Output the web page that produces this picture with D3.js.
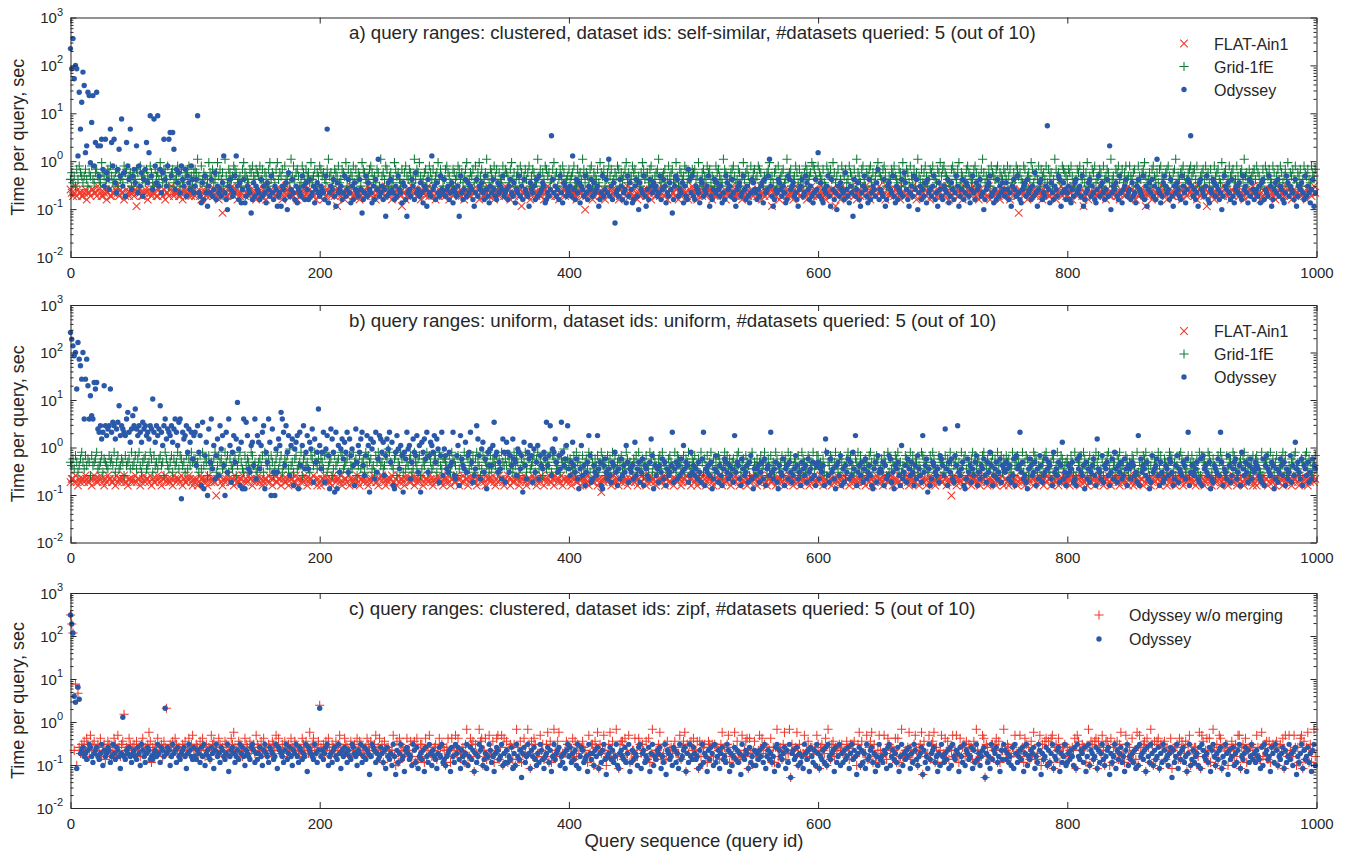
<!DOCTYPE html>
<html><head><meta charset="utf-8">
<script src="https://cdn.jsdelivr.net/npm/d3@7"></script>
<style>
body{margin:0;background:#fff}
svg{display:block}
text{font-family:"Liberation Sans",Arial,Helvetica,sans-serif;fill:#262626}
</style>
</head><body>
<svg id="chart" width="1349" height="853"></svg>
<script>
// ---------------- DATA ----------------
const xTickValues = [0, 200, 400, 600, 800, 1000];
const yTickExponents = [-2, -1, 0, 1, 2, 3];
const panelTitles = [
  "a) query ranges: clustered, dataset ids: self-similar, #datasets queried: 5 (out of 10)",
  "b) query ranges: uniform, dataset ids: uniform, #datasets queried: 5 (out of 10)",
  "c) query ranges: clustered, dataset ids: zipf, #datasets queried: 5 (out of 10)"
];
const seriesNamesAB = ["FLAT-Ain1", "Grid-1fE", "Odyssey"];
const seriesNamesC = ["Odyssey w/o merging", "Odyssey"];
const yLabel = "Time per query, sec";
const xLabel = "Query sequence (query id)";

// Values, one character per query id (0..999).
// Character k of CODE stands for a time of 10^(-1.5 + 0.07*k) seconds.
const CODE = "0123456789ABCDEFGHIJKLMNOPQRSTUVWXYZabcdefghijklmnopqrstuvwxyz";

const flatA_codes = [
"DCBCEBDCCB BCDACCBDDC CBEDCBBCDA CDBBCCDECB DCCABDCBCD",
"CBD8CDCBBC DCADCBCCEB BDCCBDACCB DECBCCDBBC ADCDCBCBED",
"BCCDBACDCB DEBCCBDCBA CC6DCBBDCC EBCDACBCDD BCCBEDCBCA",
"CDBBCDCAEC BDCCBBCDCD ABCEDCCBDB CCADBCDCBE CBDCCBDACB",
"BDCACBDCEB CCBD8DCBCC ADBCDECBBC DCABCCDBCE DBCCBADCDC",
"CCBEDCBDAC BCDDCB8CCA BDCBECDCBB CADCCBDEBC CDBACBDCCB",
"DBCCADCBED CCBDBCACDC BBEDCCBDAC CDBCCEBDCB ACDCBDCCBE",
"CBDAECBCDC BD8CCBDBCA EDCCBCDBBC ADCECBDCCB DBACCDEBCC",
"BCDCCBAEDC CBD7BCDCCA BDECCBBCDA CCBDEDCBCC ABDCCDBECB",
"CDBECACBDC DCBBCDAECC BDCBCEDBCA CDBCCBDEAC BCDCCBADCE",
"DCCABDCBEC BCDDCACBCB EDCCBDACBC DECBBCDCCA DBCEBCCDBC",
"CBDCEACBDC CBD8DCBCCA EBCDCBDCBC ADECCBBDCC BACDCEBDCB",
"BCEDCBACDC BDCC8BCDAE CBCDBCCEDB CACDBCCBED CBADCCBDCE",
"CDBCAEDCBC CBDDCBACEC BDCBCCEDBA CCDBCDEBCC ABDCCBDCEB",
"DBCCEACBDC CDBBCDAECB CDCBCEDBCA DCBCCBDEAC CBDCCBADCB",
"CCDBACEDCB B6DCCBCDAC EBCDCBDCCB ADECCBBDCC BACDCEBDCB",
"BDCCAEDCBC CDB8BCDACE CBCDBCCEDB CADCBBCDEC BCADCCBDCE",
"CBDCEACBDC DCB8CBCDAE BCCDBCEDCB ACDCBBCDEC CBADCCBDCE",
"DCBCAEDBCC BD8CCDBCAE CBDCCBEDCB CADBCCDEBC CBACDCBDCE",
"CDBCEACBDC CBDDCBCAEC BDCCBCEDBC ACDBCCDEBC BCADCCBDEC"
].join("");

const gridA_codes = [
"GIFHEJGKIH FHJGEIHKGF IJHGFLIHEG JIKHFGIJEH GHFKIJGHIE",
"HFGJIEKHGI FJHGKIFEJH IGLHFJIGKE HIJFGHKIEJ GFHIJKGHEI",
"JIMHFKGIHE GLIHJFGILH JGIEMHFJIG HKJIFGHEJL IHGFJIKHGJ",
"IHKGJFIHEJ LGIHFJLGIH JEKGHIFMHK GIJHEFKIGJ HIFLGHJEIH",
"KJHIGFJMHI EGJIHKFGJI HLEJGIHKFJ GIHELJIGFH JKIGHFJIEM",
"HIGKJEHIFG LJHIGFJEIK HGJIFHMGJI LHFGIJEHKI GJFHILGJHE",
"GJKIHFEJIG HKJGIFHJLE GIHJFKGILH JEGIMHFJIG KHJEIGFKHJ",
"IHFJLGIEHJ GKIFHJGIKE HJIGFMHJEI GKJHIFGJLH IEGJHKIFGH",
"JGHIKFEJHI GMJFIHGJKE IHGJFLIHJE GIKHJFGIHK JEIGHJLFIG",
"HKIJGFHEIL JGHIFJKGEH IJMGFHIJEG KHIJGFLHEJ IGHKJFIGHJ",
"IJGHLEFIJH GKIJFHGEKI JHGFMJIHEG IJKHFGJIEH LGIJHFKGIJ",
"GHKJIFEHGI JLGHFIJEKG HIJFGMHIJE GHKIFJGHEI KJGHILKJHG",
"KIHGJFEKIH JGLIFHJEGK IHJFGKIHEJ GMIHFJKGEI HJKGIFHJLI",
"HGJKIEFHGJ IKHGFJIELH GJIFKHGJEI MHGJFIKHEG JIKHGFJILH",
"JKIHGFEJKI HGJLFIHEGJ KIHFGJKIEH GJMIFHGJEK IHGJKFIHGJ",
"IGKHJEFIGK JHIGFKJEHI GLJFHIGKEJ HIGKFJHIEG MJHIGFKJIH",
"GJIKHFEGJI KHGJFILEHG JIKFGHJIEK GHJIFMGHEJ IKGHJFIKGH",
"KHGIJEFKHG IJLHFGIEJK HGIFJKHGEI JKHGFIJMEH GIJKHFGIJK",
"HIJGKFEHIJ GKHIFJGEKH IJGFLHIJEG KHIJFGKHEI JGMHIFJGHI",
"JGKIHEFJGK IHJGFKIEHJ GKIFHJGLEI HJGKFIHJEG KIHJGFKIHJ"
].join("");

const odysseyA_codes = [
"tnwkonNgVd miOQgfLXfK RgQHQSJESI GDVRKSFCJP HYEIBRKGVD",
"HJFQCKEIBG JRFOZHDYKF ZEJCISGEKS UHUPDJFICK GEJBHFDKGC",
"EGZCB9FAHC 8ECGBDIAEC DBFNCA7EGD BCHNEAF9DG 9BEDC6AFBE",
"DCAGBEC9FD BHCAED8BC8 EDAF7IBDGC AE9DCBHEAF DAGBCE9DFC",
"BEDCAHV9CE DGB8FCDEAC HBDGC9EAFD CBGD6ACHBF DC9EAGDMBC",
"EAD5BFCGDC AEBHDC9FEA 5CDBGEAICD BFC9ED8GCB NDEAFCBHDC",
"GBDEACF9DC BE5HCADGBF CEDA8CGBED FCAHDB9ECG DBAFCEDHBC",
"DAEGCBF9DC HBEAGDCB8F DCEAGBHCDF E9ACBDTGCE BDAHC9FEBD",
"CEBNDAGCF9 EDBHCAEDGB FCDE8ACHBD GCMBEAF3CD BGEACD9HBF",
"D9AEGB7FDC HB8DAGECFD EBCHADGE9C BFD6AEHGBD CF9EBAJGCH",
"BAEDC9GFBD CEH8BADGCF DBE9CAHFDE BGCA8DEFBC HDAEB9CGFD",
"CADBEF9GCD HMEB8ADCGF DBEC9AHGDE FBCA8DEGBC HFDAEB9CGD",
"OBFA9DCEHB 8GDAC7EBFD CAIDB9EC5G BDFA8CEHDB 9GACEDBFJA",
"DCBG8AEFDC HB9EADCGBI FDA8CEBHDG 7CEADBF9GC DBEHAC8FDB",
"AEDCG9BFDA CHE8BDGACF EB9DHCAFDE GBC7ADEFHB C9DAGBECFD",
"BFDAC8EGDB HCA9DEFBGC DAEBIC8DFG ACBEWD9FCA EDBHG8CFDA",
"CEA9DBFGCD EBH8ACDFGB ECA9DHBEFC ADGBQ7CEDF BAHC9DEGBC",
"DAFBC9EGDC BHAE8DFCGB EAMDC9BFHE CDAGB8ECFD BAHEC9DGFT",
"EBDAC8FGDC BEHA9DCGFB EDAC7BHEDF CAGB9DECFB AHDEC9GBFD",
"ACDBE9FGAD CBHE8ADFCG BEDA9CHFBE DCAG8BEDFC AHBEC9DG8C"
].join("");

const flatB_codes = [
"BCCBDBACBC CBDCBBCACD CBBCDCBACB DCCBBCADBC CBCDBBACCB",
"CBDBCCABCD BCCBDACBBC DCBACCDBCB BCADCBCCBD ACBBCDCBAC",
"BCABDCCBCB ADCBCBB7CC DBACBCDCBB CADCBBCCDA BCBDCCABCB",
"CDBCABCCBD BCACDBBCCA DCBBCADCCB BDCACBCBDC ABCCBDBCAC",
"BACCDBCBBC ADCBCCBDAB CCBDACBCBC DBACCBCDBA CBCDCBBACD",
"DCBACBCCDB BCADBCCBAC DCBBCDACBC BCDABCCBDC BACBCDCBBA",
"CBCDBACCBB DCACBDBCCA BCDCBBACDC BCBADCCBCD BACBDCCBAC",
"BDCACBBCDC ABCCDBACBC BDCCABCBDC ACBCDBBCAD CBCBDACCBC",
"CBACDCBBCA DCBCBDACCB BCDACB8CBC DBCCABDCBC ACBDCBCABC",
"BCDBCACBBD CCABCDBCCB ADCBCBDACC BDBCACCBDC ABCCDBBCAC",
"DBCABCCBDC ABCCDBACBB CDCABCBDCC ABCBDCCABC DBCACBBDCC",
"CABCDBCCBA DCBBCDACBC CBDACBCDBC ABCCBDACBC DBCABCCDBC",
"BCDCABCBBD CACBCDBCAB CDBCCABDCB CABCDCBBAC DBCCABCDBC",
"CBACDCBBCD ACBCBDACCB DCBACBCDBC CABDCBCACB DCBCABCDCB",
"BDCABCB7CD CABCBDCACB BCDACBCDBC ABCCDBACBC DBCABCCDBA",
"CCBADBCBCD ABCCBDACBC BDCACBCDBB CACBDCCABC DBCACBCDBC",
"BCADCBCBDC ABCDBCACBB CDACBCDBCA BCCDBACBCD CBACBCDBCA",
"DCBACBCDBC CABDCBCABC BDCCABCDBC ACBCDBCABC DCBACBCDCB",
"CBDACBCDBC ABCCDBACBC BDCABCCDBA CBCDBCABCC DBACBCDCBA",
"BCADCBCDBC CABDCBCACB BCDACBCDBC ABCCDBACBC DCBACBCDBC"
].join("");

const gridB_codes = [
"HGIFJHEGIK HFJGIHDJGH IKFGHJEIHG FJHIGKEHJF GIHDJGHIFK",
"GHJFIKGEHI JFGHKIEJGH FIJGHDKIGF HJEIGHKFJI GHEJFIGKHI",
"IGHEJFKGIH DJFHGIKEGJ HIFGKHJEIG FHJDGIKHFE JGIHFKJGHE",
"FHIGJEKHGI FJHDGIKFHJ EGIHJFLGHE IJFGHKDIJG HFEJIGKHFI",
"GIHFJKEGHI DFJGHIEKJF GHIEJGFKHI DGJFHIEKGJ HIFGEJHKIG",
"HFGJILKHGF IJDHGKIEJF HGIJEFKHGI JDFHGIKEJH FGIJEHKGFI",
"IHGFJEKIHG DJFIHGKEJI FHGJEIKHGD FJIHGKEJFI HGJEIFKHGI",
"GJHFIEKGJH DFIGHKEJIF GHJEIKFHGD JIFHGKEJIH FGJEIHLGFI",
"HIGFJEKHIG DJFHIGKEJH FIGJEHKIGD FJHIGKEJFH IGJEHFKIGH",
"FGIHJEKFGI DHJGFKIEJH GFIJEKHGFD IJHGFKEJIH GFJEIHKGFI",
"HJFGIDKHEI GJFHKGIEHF JIGDHKFJGI EHIFGJKHEG IFJHGDIKFH",
"GIEHJFGKHD IFJGHEKIGF HJDGIFKHJE GIHFJGDKIH FEJIGHKFGJ",
"JFHGIEKDHG JIFHKGEIJH FGDIKHJFGE IHKGJFDHIG EJKHFIGJHE",
"FIGJHDKEIF HGJIKFHEGD JIHGKFJEIH DGFKJIHGEF JHKIGDFJHI",
"HEJGIFKHDG IJFHEKGIJF DHGIKEJFHI GDJKHFIEGH JFIDKGHJEI",
"GJHIEFKDGH JIFGKEHJID FGHKJIEGFD HIJKGFEHJI DGKFHJIEGH",
"IGFJHEKDIG HJFKIGEHJD FIGKHJEFID GHJKFIEGHD JIKFGHEJID",
"HFJIGDKEHF GJIKHFDGJE IHFKGJDEIH FGKJIEHDGF JKIHGEFJDH",
"JHGFIEKDJH IGFKJHEIGD FJHKIGEDJF HIGKJFEDHI GJKFHIDEGJ",
"GIJHFEKDGI HJFKGIEHJD FGIKHJEDGF IHJKGFEDIH GJKFIHDEGJ"
].join("");

const odysseyB_codes = [
"usqnodrmkg oUgmeUbVUf dfRQSOQeSP RSdQTSORTY PSRQPUWQNR",
"VSXRPSQNTR SPQOSRaQNS PRYQMSUORQ PSNRUQMTU6 QOPSKRNQIP",
"QGSKPAT9JN 7RHUFMCJOD SLPG7QEUMB KPHOZLAN9U 9TPFEMNGUC",
"PNFMQS9KHU N7RE7LEOMW UQGSKPDMOA LNP9QGMSFK PFNLRBOHKX",
"MFKQBLPJ9R OK8Q9MELOI NKQEOJLGAR HMKOQGDJPM 8OLNCQEIPO",
"KNDJOLQHNA 9KPLFMJ8KI QLMCHOKJPE M8NKOIQEJN MKPHOLBJQD",
"LJFEKGHQDC JMAPIGFNEJ KQHBDFSOJC LNEI9KGLGM TJKEHFCOKB",
"NKEJGOIHDL KFJ8NGCKIM JBLEHMCJGF KITGJSDLKO HEJFTKGIMS",
"FDHNGEIC9F MDGAEHPJBC GEDPFHA9GI ECFDBHGKEA FCIDGEMHBF",
"EGCNDFHBEI AGFDCHOJ9G DFBGEICHAF DEGQBFHCGD IEMFHGBDKE",
"GDFCHEBIQA FEGDH9CFJE BGDAFIHECG DFBPEHGCAI FDEGBHJC9F",
"DFGBEHCIAF GDQECFHB9G EDIAFGCHEB DFJGCEAHFD GBIEFCHDAG",
"HCFEGAOKDB IEFC9GHDJA FBGEICHDKF PAEGDHBFIC EGDA9FHBJE",
"FEHAGCDJIB E9GFHDAMCE GBIFDHEAGC JFDBPEGI8F ACHGEDFBJI",
"GDRFAHEICB JGSEDFHA9C IEGBFDHJAE CGFIDBHEKG ADFHCEIBGF",
"EHFCGBDIAJ FGQEHCDB9F IGDEHAFCJG BDEIFHGCAK EFDHBGNCEA",
"DGEFHBCAIF JEDG9HCFBE GIDAOFECJB GFHDAEICKF BGEHCDIFAG",
"FCHGDEBPAI EGFDHC9BJE FGIDAHEBCG FDIHEACGJB FEDHGCIQAE",
"GEDFHCBIAJ FGEDH9CBGF EIDQHAFECJ GBDFHICEGA KFDHEBGICF",
"EHGFDCBIAG JFEDHG9CFB EIGDHAFCEJ BGDNFHECIA GFDHBECIGF"
].join("");

const noMergeC_codes = [
"vspCY7VDBE DFCGEAHCEF CBEDGACE9B FECADGEBHD AEFOCDBGEC",
"DEBFCDAEGC DBEIF8DCEB GDCEAFDQCB EDFCGEBDCA EDFBCGDEHC",
"CEDBFCGDAE CD9HEFCDBG ECDAFEBDCG EIDCBFEDAC GEDBFCDEBH",
"EDCFBGDCAE DBFECHDGCB EAFDCEBGDC FEDBACGEDF CBIDEGCBDF",
"RDCEBFDGCA EDBFCEHDCB GEDCAFBDEC GDFEBCADGE CFDBEHCDGB",
"E8FBDDCBCH A7F8GECDAC GBCFAEF8G9 AEEC8GADHB ACDE9BGDED",
"C7DGC8GADH BGCBCD8EJA AGEF5EBAJF G7CG9AHCBF 8BGH9DH7GB",
"F8DED9E7JD 9F8BGBAJE6 FAGEABBHCE 9AEI8F8AJC BFIAABBBFE",
"DDBG9FAEBD DFDCA8HBEE 7FDI6EBCHC 7AEI9FBAJA 6EFF9GBBH8",
"BCCGAAGEBE CBF9G8BJAA CCEI9ABE9F BCDCDFBBBH 9DFI5EBEFC",
"GBCF6FAEDE A8FEDEAEDD C9EI9DBEH8 BADI9FBB9H ACFG6GBACF",
"ABCHAGBEBD CCG8D8DJAC D9EI9CBJ3E CCDI7EBABH BCFADDBCCH",
"E6DECBG7JD 9EFADBDECE BCCFD9EEEF A7EI7FBBBH 9DFI8E8ACH",
"CABHB9GECD CCG8G8AJAB CCDI9BBEHC 7DEI4FBABH 9EFI8D8BCH",
"ABG9F9DCHA CHB8GADEAF BEDD9F8JCB AAHG3EDA9E ECEG8F8CCJ",
"CCEDAADBHB BAHCD8GEAD 9FBI9ABEH7 E9FG7F8GH6 DECG8BDDEA",
"DBCCDCG6HF CCEDD8DJ7F E9FG6FDBHC 7FFD7G8DEB F9EIBA8HEA",
"D9GBC9I7HD BEF5GD8JE7 F9FG6EDEF9 DCBG6CDDE9 G9FDBF5EH7",
"CCDDBAI6HF ACG8G8CJD7 E9HG6DDEE7 CCFDAE8HH6 DEBG8CDDEC",
"BBHD99IAEE F9F8DEDEF7 DEBG6HBAHC BAHD7D8GH6 F9DI8E8CJA"
].join("");

const odysseyC_codes = [
"vspUS6XTBC DAB9CEDA8B CDA9BE7CAB DC8AEB9DCA 6BNA9CBDA8",
"BCA9DB7ECA 8BDC9A9BCA EB8DCAQBDC 7AEBC8DA9B CDA6BECA9D",
"A9CB8DAE7B CA9DB6CEAB 8DCA9BE5AC DB8AC9EBDA 7CBA9DEC8B",
"9BDA7CEBA8 DCB9AE6DCB A8CE9BDA7C BEA8DC9BAE 5DCBA9EB8C",
"QAC9BDE7AB 8CDA9EB6CA DB8CA9EDBA 7CBE8AD9CB 4AEDC8B9AD",
"B8C6DA9B7E A4C8BE9A5C DB9A7EC8D6 AB9C5DA8EB 7CA96BDAE8",
"97ABC5DA8E BD96CA8BE7 AD9C5B8AEC D79B6AEC8A 5BDC9AE7B8",
"C8A9D6B7EA 9C3BD8AEB6 CAD97B8EC9 6ABD8C5AE9 BCD7A8B6CE",
"AD8B9C7E6A DC89A5EB9B 7CAD6B8CE9 4ABD9C8AE7 6BCA9D8BE5",
"8C9BA7DE6B C8A9D5BE7A 9CBD6A8E4C B9A7DC8B6E 9ACD5B8EA9",
"DB9A6C7E8B A5C9DB7E8A C6BD9A8EC5 B7AD9C8B4E A9CB6D8A7C",
"7B9CAD8E6A C9B8A5DE7C A9BD6C8E3B C9AD7B8A6E B9C5DA8C7E",
"B6A9C8D7EA 9BC5D8AE7B 8C9AD6BE9C A4BD7C8B6E 9ACD8B5A7E",
"9A8CB6DE7A C9B8D5AE7B 9CAD6B8EC9 7ABD4C8A6E 9BCD8A5B7E",
"A8B9C6D7EA 9CB5DA8E7C B9AD6C8E9B 7ACD3B8A6E 9CBD8A5C9E",
"C9B8A7D6EB 8AC9D5BE7A 9CBD6A8EC4 B9AD7C8BE6 A9CD5B8AE7",
"8B9CA7D6EA 9CB8D5AE7C B9AD6C8BE9 7ACD4B8AE6 C9BD8A5CE7",
"A9B8C6D7EA B9C5DA8EB7 C9AD6B8EC9 A7BD3C8AE6 B9CD8A5BE7",
"9C8AB7D6EC A9B8D5CEA7 B9CD6A8EB4 C9AD7B8CE6 A9BD5C8AE9",
"B8CA96D7EB C9A5DB8EC7 A9BD6C8AE9 B7CD4A8BE6 C9AD8B5CE7"
].join("");

function decode(codes) {
  return Array.from(codes.replace(/\s/g, "")).slice(0, 1000)
    .map(ch => +Math.pow(10, -1.5 + 0.07 * CODE.indexOf(ch)).toPrecision(3));
}
const flatA = decode(flatA_codes), gridA = decode(gridA_codes), odysseyA = decode(odysseyA_codes);
const flatB = decode(flatB_codes), gridB = decode(gridB_codes), odysseyB = decode(odysseyB_codes);
const noMergeC = decode(noMergeC_codes), odysseyC = decode(odysseyC_codes);

// ---------------- STYLE / LAYOUT ----------------
const RED = "#ee3a2c", GREEN = "#107a3a", BLUE = "#2b59aa";
const left = 70.5, right = 1316.5;
const panels = [
  { top: 17.5, bottom: 257, title: panelTitles[0], titleY: 39,
    legend: { mx: 1184, tx: 1214, y0: 43.5, dy: 23 },
    series: [ {name: seriesNamesAB[0], values: flatA, marker: "x", color: RED},
              {name: seriesNamesAB[1], values: gridA, marker: "+", color: GREEN},
              {name: seriesNamesAB[2], values: odysseyA, marker: "o", color: BLUE} ] },
  { top: 305, bottom: 542.5, title: panelTitles[1], titleY: 326.5,
    legend: { mx: 1184, tx: 1214, y0: 331, dy: 23 },
    series: [ {name: seriesNamesAB[0], values: flatB, marker: "x", color: RED},
              {name: seriesNamesAB[1], values: gridB, marker: "+", color: GREEN},
              {name: seriesNamesAB[2], values: odysseyB, marker: "o", color: BLUE} ] },
  { top: 593, bottom: 808, title: panelTitles[2], titleY: 614.5,
    legend: { mx: 1099, tx: 1129, y0: 615, dy: 24 },
    series: [ {name: seriesNamesC[0], values: noMergeC, marker: "+", color: RED},
              {name: seriesNamesC[1], values: odysseyC, marker: "o", color: BLUE} ] }
];

const svg = d3.select("#chart");

function markerPath(type, x, y) {
  if (type === "x") { const s = 3.8; return `M${x-s},${y-s}L${x+s},${y+s}M${x-s},${y+s}L${x+s},${y-s}`; }
  const s = 4.6; return `M${x-s},${y}L${x+s},${y}M${x},${y-s}L${x},${y+s}`;
}
function drawMarkers(g, data, type, color, xs, ys) {
  if (type === "o") {
    g.selectAll("circle").data(data).join("circle")
      .attr("cx", d => xs(d.i)).attr("cy", d => ys(d.v)).attr("r", 2.7)
      .attr("fill", color);
  } else {
    g.selectAll("path").data(data).join("path")
      .attr("d", d => markerPath(type, xs(d.i), ys(d.v)))
      .attr("fill", "none").attr("stroke", color).attr("stroke-width", 1.05);
  }
}

panels.forEach((p, pi) => {
  const x = d3.scaleLinear().domain([0, 1000]).range([left, right]);
  const y = d3.scaleLog().domain([0.01, 1000]).range([p.bottom, p.top]);
  const g = svg.append("g").attr("class", "panel" + pi);

  p.series.forEach(s => {
    const data = s.values.map((v, i) => ({i, v})).filter(d => d.v >= 0.01 && d.v <= 1000);
    drawMarkers(g.append("g"), data, s.marker, s.color, x, y);
  });

  const majorY = yTickExponents.map(e => Math.pow(10, e));
  const minorY = [];
  for (let e = -2; e < 3; e++) for (let m = 2; m <= 9; m++) minorY.push(m * Math.pow(10, e));
  const axStyle = sel => { sel.selectAll(".domain").attr("stroke", "#262626").attr("stroke-width", 1);
                           sel.selectAll(".tick line").attr("stroke", "#262626"); };
  g.append("g").attr("transform", `translate(${left},0)`)
    .call(d3.axisLeft(y).tickValues(majorY).tickSizeInner(-6).tickSizeOuter(0).tickFormat(""))
    .call(axStyle);
  g.append("g").attr("transform", `translate(${left},0)`)
    .call(d3.axisLeft(y).tickValues(minorY).tickSizeInner(-3).tickSizeOuter(0).tickFormat(""))
    .call(axStyle).select(".domain").remove();
  g.append("g").attr("transform", `translate(${right},0)`)
    .call(d3.axisRight(y).tickValues(majorY).tickSizeInner(-6).tickSizeOuter(0).tickFormat(""))
    .call(axStyle);
  g.append("g").attr("transform", `translate(${right},0)`)
    .call(d3.axisRight(y).tickValues(minorY).tickSizeInner(-3).tickSizeOuter(0).tickFormat(""))
    .call(axStyle).select(".domain").remove();
  const xb = g.append("g").attr("transform", `translate(0,${p.bottom})`)
    .call(d3.axisBottom(x).tickValues(xTickValues).tickSizeInner(-6).tickSizeOuter(0).tickFormat(d3.format("d")).tickPadding(10))
    .call(axStyle);
  xb.selectAll("text").attr("font-size", 15).attr("fill", "#262626").attr("font-family", '"Liberation Sans",Arial,sans-serif');
  g.append("g").attr("transform", `translate(0,${p.top})`)
    .call(d3.axisTop(x).tickValues(xTickValues).tickSizeInner(-6).tickSizeOuter(0).tickFormat(""))
    .call(axStyle);

  yTickExponents.forEach(e => {
    const yy = y(Math.pow(10, e));
    const t = g.append("text").attr("x", 63).attr("y", yy + 5.5).attr("text-anchor", "end");
    t.append("tspan").attr("font-size", 15).text("10");
    t.append("tspan").attr("font-size", 11).attr("dy", -7.5).text(String(e));
  });

  g.append("text").attr("transform", `translate(24,${(p.top + p.bottom) / 2}) rotate(-90)`)
    .attr("text-anchor", "middle").attr("font-size", 18).text(yLabel);

  g.append("text").attr("x", 349).attr("y", p.titleY).attr("font-size", 18.7).text(p.title);

  p.series.forEach((s, k) => {
    const ly = p.legend.y0 + k * p.legend.dy;
    if (s.marker === "o") {
      g.append("circle").attr("cx", p.legend.mx).attr("cy", ly).attr("r", 2.7).attr("fill", s.color);
    } else {
      g.append("path").attr("d", markerPath(s.marker, p.legend.mx, ly))
        .attr("fill", "none").attr("stroke", s.color).attr("stroke-width", 1.05);
    }
    g.append("text").attr("x", p.legend.tx).attr("y", ly + 6).attr("font-size", 16).text(s.name);
  });
});

svg.append("text").attr("x", 694).attr("y", 847).attr("text-anchor", "middle")
  .attr("font-size", 18.5).text(xLabel);
</script>
</body></html>
